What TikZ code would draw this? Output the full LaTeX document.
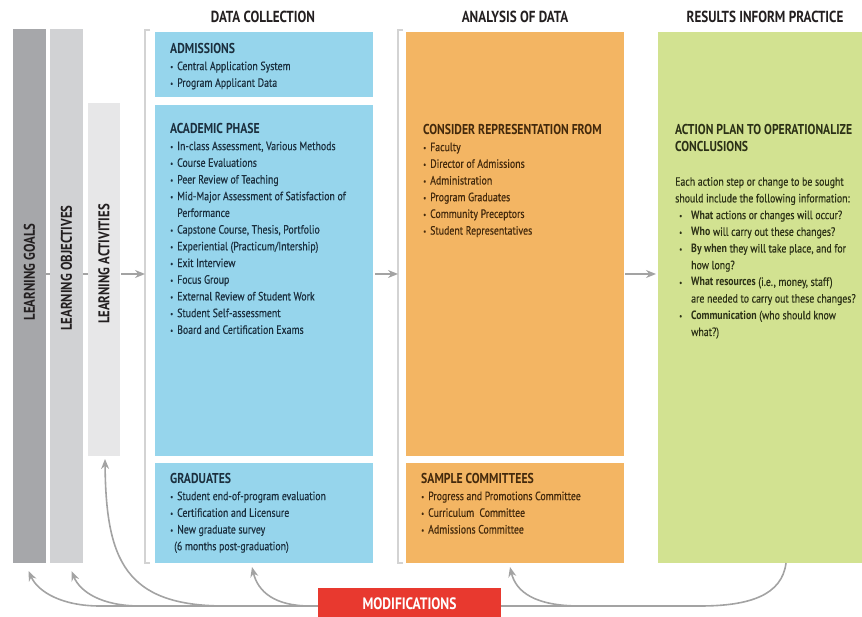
\documentclass[tikz,border=0pt]{standalone}
\usepackage{fontspec}
\setmainfont{PT Sans}[FakeStretch=0.82, UprightFeatures={FakeBold=0.4}]
\usetikzlibrary{arrows.meta,backgrounds}
\definecolor{goalsgray}{HTML}{A6A7AA}
\definecolor{objgray}{HTML}{D1D2D4}
\definecolor{actgray}{HTML}{E7E7E8}
\definecolor{bluebox}{HTML}{96D5EC}
\definecolor{orangebox}{HTML}{F3B563}
\definecolor{greenbox}{HTML}{D2E291}
\definecolor{redbox}{HTML}{E8392F}
\definecolor{arrowgray}{HTML}{A3A3A3}
\definecolor{bracketgray}{HTML}{D3D3D3}
\definecolor{bluetext}{HTML}{1B2F3E}
\definecolor{orangetext}{HTML}{43290C}
\definecolor{greentext}{HTML}{2B3016}
\definecolor{headtext}{HTML}{231F20}
\newcommand{\bul}{\makebox[7pt][l]{\raisebox{0.5pt}{\footnotesize •}}}
\newcommand{\gbul}{\makebox[16pt][l]{\hspace{4pt}\raisebox{0.5pt}{\footnotesize •}}}
\newcommand{\ttl}[1]{{\bfseries\fontsize{14.3}{16.7}\selectfont #1}}
\tikzset{
  panel/.style={anchor=north west, inner sep=0pt, outer sep=0pt, draw=none},
  vlabel/.style={rotate=90, font=\bfseries\fontsize{15.5}{16}\selectfont, text=headtext},
  head/.style={font=\bfseries\fontsize{16}{18}\selectfont, text=headtext},
  boxtext/.style={anchor=north west, inner sep=0pt, align=left, font=\fontsize{12}{16.7}\selectfont},
  flow/.style={draw=arrowgray, line width=1.6pt, -{Stealth[length=10pt,width=8pt]}},
  thinline/.style={draw=arrowgray, line width=1.6pt},
  bracket/.style={draw=bracketgray, line width=1.2pt}
}
\begin{document}
\begin{tikzpicture}[x=1pt,y=-1pt]
\useasboundingbox (0,0) rectangle (862,617);
% left bars
\node[panel, fill=goalsgray, minimum width=33pt, minimum height=534pt] (goals) at (13,29) {};
\node[panel, fill=objgray, minimum width=33pt, minimum height=534pt] (obj) at (50,29) {};
\node[panel, fill=actgray, minimum width=32pt, minimum height=353pt] (act) at (88,103) {};
\node[vlabel] (lgoals) at (29.5,272) {LEARNING GOALS};
\node[vlabel] (lobj) at (66.5,268) {LEARNING OBJECTIVES};
\node[vlabel] (lact) at (104,264) {LEARNING ACTIVITIES};
% headers
\node[head] (hdc) at (263,17) {DATA COLLECTION};
\node[head] (han) at (515,17) {ANALYSIS OF DATA};
\node[head] (hres) at (765,17) {RESULTS INFORM PRACTICE};
% brackets
\coordinate (dcin) at (145,274);
\coordinate (anin) at (398,274);
\draw[bracket] (150,30) -- (145,30) -- (145,563) -- (150,563);
\draw[bracket] (403,30) -- (398,30) -- (398,563) -- (403,563);
% data collection boxes
\node[panel, fill=bluebox, minimum width=218pt, minimum height=65pt] (adm) at (155,32) {};
\node[panel, fill=bluebox, minimum width=218pt, minimum height=351pt] (acad) at (155,105) {};
\node[panel, fill=bluebox, minimum width=218pt, minimum height=100pt] (grad) at (155,463) {};
% analysis boxes
\node[panel, fill=orangebox, minimum width=218pt, minimum height=424pt] (cons) at (406,32) {};
\node[panel, fill=orangebox, minimum width=218pt, minimum height=100pt] (samp) at (406,463) {};
% results box
\node[panel, fill=greenbox, minimum width=204pt, minimum height=531pt] (green) at (658,32) {};
% texts
\node[boxtext, text=bluetext] (admt) at (170,43) {\ttl{ADMISSIONS}\\
\bul Central Application System\\
\bul Program Applicant Data};
\node[boxtext, text=bluetext] (acadt) at (170,123) {\ttl{ACADEMIC PHASE}\\
\bul In-class Assessment, Various Methods\\
\bul Course Evaluations\\
\bul Peer Review of Teaching\\
\bul Mid-Major Assessment of Satisfaction of\\
\hspace*{7pt}Performance\\
\bul Capstone Course, Thesis, Portfolio\\
\bul Experiential (Practicum/Intership)\\
\bul Exit Interview\\
\bul Focus Group\\
\bul External Review of Student Work\\
\bul Student Self-assessment\\
\bul Board and Certification Exams};
\node[boxtext, text=bluetext] (gradt) at (170,473) {\ttl{GRADUATES}\\
\bul Student end-of-program evaluation\\
\bul Certification and Licensure\\
\bul New graduate survey\\
\hspace*{4pt}(6 months post-graduation)};
\node[boxtext, text=orangetext] (const) at (423,124) {\ttl{CONSIDER REPRESENTATION FROM}\\
\bul Faculty\\
\bul Director of Admissions\\
\bul Administration\\
\bul Program Graduates\\
\bul Community Preceptors\\
\bul Student Representatives};
\node[boxtext, text=orangetext] (sampt) at (421,473) {\ttl{SAMPLE COMMITTEES}\\
\bul Progress and Promotions Committee\\
\bul Curriculum\ \ Committee\\
\bul Admissions Committee};
\node[boxtext, text=greentext] (greent) at (675,124) {\ttl{ACTION PLAN TO OPERATIONALIZE}\\
\ttl{CONCLUSIONS}};
\node[boxtext, text=greentext] (greenb) at (675,177) {Each action step or change to be sought\\
should include the following information:\\
\gbul\textbf{What} actions or changes will occur?\\
\gbul\textbf{Who} will carry out these changes?\\
\gbul\textbf{By when} they will take place, and for\\
\hspace*{16pt}how long?\\
\gbul\textbf{What resources} (i.e., money, staff)\\
\hspace*{16pt}are needed to carry out these changes?\\
\gbul\textbf{Communication} (who should know\\
\hspace*{16pt}what?)};
% flow arrows
\begin{pgfonlayer}{background}
\draw[thinline] (goals.east |- dcin) -- (act.west |- dcin);
\end{pgfonlayer}
\draw[flow] ([xshift=1pt]act.east |- dcin) -- (dcin);
\draw[flow] ([xshift=2pt]acad.east |- anin) -- (anin);
\draw[flow] ([xshift=1pt]cons.east |- anin) -- ([xshift=-2pt]green.west |- anin);
% modifications loop
\coordinate (rbend) at (700,606);
\coordinate (lend) at (100,606);
\coordinate (tipsamp) at ([xshift=104pt,yshift=-4pt]samp.south west);
\coordinate (tipgrad) at ([xshift=97pt,yshift=-4pt]grad.south west);
\coordinate (tipact) at ([xshift=1pt,yshift=-3pt]act.south);
\coordinate (tipobj) at ([xshift=5pt,yshift=-8pt]obj.south);
\coordinate (tipgoal) at ([xshift=-1pt,yshift=-8pt]goals.south);
\draw[thinline] ([xshift=128pt]green.south west) .. controls +(-4,32) and +(50,0) .. (rbend) -- (lend);
\draw[flow] (lend) .. controls (62,606) and (38,592) .. (tipgoal);
\draw[flow] (140,606) .. controls (102,606) and (80,592) .. (tipobj);
\draw[flow] (225,606) .. controls (125,606) and (106,560) .. (tipact);
\draw[flow] (310,606) .. controls (275,606) and (258,592) .. (tipgrad);
\draw[flow] (580,606) .. controls (535,606) and (516,592) .. (tipsamp);
\node[panel, fill=redbox, minimum width=183pt, minimum height=32pt, text=white, font=\bfseries\fontsize{16.5}{18}\selectfont] (mod) at (318,588) {MODIFICATIONS};
\end{tikzpicture}
\end{document}
